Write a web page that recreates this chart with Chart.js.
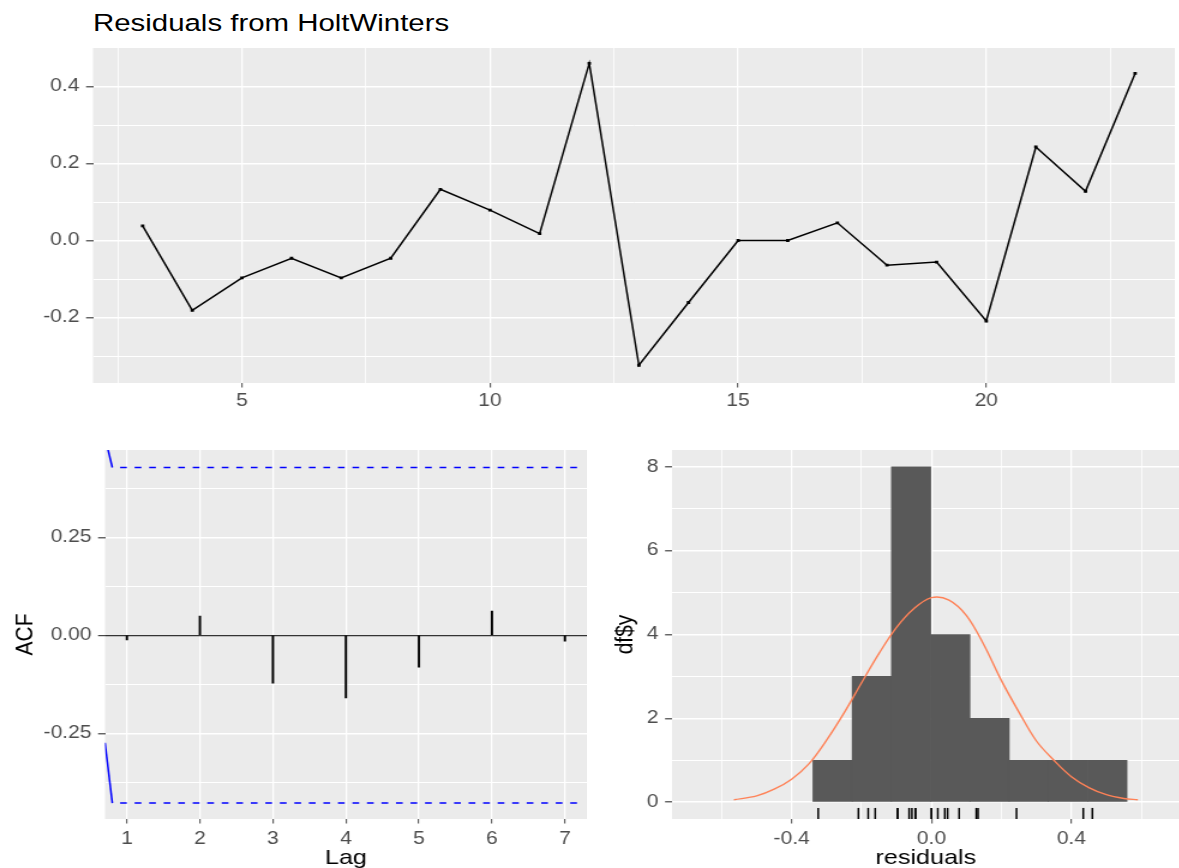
<!DOCTYPE html>
<html>
<head>
<meta charset="utf-8">
<script src="https://cdn.jsdelivr.net/npm/chart.js@4.4.1/dist/chart.umd.min.js"></script>
<style>
  html, body { margin: 0; padding: 0; background: #fff; width: 1179px; height: 868px; overflow: hidden; }
  .panel { position: absolute; transform-origin: 0 0; transform: scaleX(1.2); }
  #title { position: absolute; left: 93px; top: 11px; font-family: "Liberation Sans", Arial, sans-serif;
           font-size: 24.5px; line-height: 1; color: #000; white-space: nowrap;
           transform-origin: 0 0; transform: scaleX(1.2); }
</style>
</head>
<body>
<div id="title">Residuals from HoltWinters</div>
<div class="panel" style="left:0;top:44px"><canvas id="resChart" width="983" height="369"></canvas></div>
<div class="panel" style="left:0;top:450px"><canvas id="acfChart" width="489" height="421"></canvas></div>
<div class="panel" style="left:600px;top:450px"><canvas id="histChart" width="483" height="421"></canvas></div>
<script>
// residuals over time
const timeIndex = [3, 4, 5, 6, 7, 8, 9, 10, 11, 12, 13, 14, 15, 16, 17, 18, 19, 20, 21, 22, 23];
const residuals = [0.038, -0.181, -0.097, -0.046, -0.097, -0.046, 0.133, 0.079, 0.018, 0.460, -0.324,
                   -0.161, 0.000, 0.000, 0.046, -0.064, -0.056, -0.209, 0.243, 0.128, 0.434];
const resXMajor = [5, 10, 15, 20];
const resXLabels = ['5', '10', '15', '20'];
const resXMinor = [2.5, 7.5, 12.5, 17.5, 22.5];
const resYMajor = [-0.2, 0, 0.2, 0.4];
const resYLabels = ['-0.2', '0.0', '0.2', '0.4'];
const resYMinor = [-0.3, -0.1, 0.1, 0.3];

// ACF of residuals
const lags = [1, 2, 3, 4, 5, 6, 7];
const acfValues = [-0.012, 0.049, -0.122, -0.160, -0.081, 0.062, -0.015];
const acfLimit = 0.428;
const ciLagRange = [0.8, 7.2];
const ciEdgeLags = [0.7, 0.8];
const ciEdgeUpper = [0.505, 0.428];
const ciEdgeLower = [-0.274, -0.428];
const acfXLabels = ['1', '2', '3', '4', '5', '6', '7'];
const acfYMajor = [-0.25, 0, 0.25];
const acfYLabels = ['-0.25', '0.00', '0.25'];
const acfYMinor = [-0.375, -0.125, 0.125, 0.375];

// histogram of residuals + normal curve
const binEdges = [-0.339, -0.2268, -0.1145, -0.0023, 0.1099, 0.2222, 0.3344, 0.4467, 0.559];
const binCounts = [1, 3, 8, 4, 2, 1, 1, 1];
const curveX = [-0.565, -0.5, -0.45, -0.4, -0.35, -0.3, -0.25, -0.2, -0.15, -0.1, -0.05, 0,
                0.05, 0.1, 0.15, 0.2, 0.25, 0.3, 0.35, 0.4, 0.45, 0.5, 0.55, 0.59];
const curveY = [0.06, 0.15, 0.31, 0.55, 0.92, 1.48, 2.13, 2.85, 3.55, 4.17, 4.62, 4.88,
                4.82, 4.45, 3.75, 2.9, 2.15, 1.46, 1.0, 0.61, 0.35, 0.18, 0.09, 0.06];
const histXMajor = [-0.4, 0, 0.4];
const histXLabels = ['-0.4', '0.0', '0.4'];
const histXMinor = [-0.6, -0.2, 0.2, 0.6];
const histYMajor = [0, 2, 4, 6, 8];
const histYLabels = ['0', '2', '4', '6', '8'];
const histYMinor = [1, 3, 5, 7];

const S = 1.2; // the reference is stretched sideways
const FONT = "'Liberation Sans', Arial, sans-serif";

function axis(o) {
  const all = o.major.concat(o.minor).sort((a, b) => a - b);
  const isMajor = c => c.tick && o.major.includes(c.tick.value);
  return {
    type: 'linear', min: o.min, max: o.max, offset: false,
    afterBuildTicks: s => { s.ticks = all.map(v => ({ value: v })); },
    afterFit: s => {
      if (o.horizontal) s.height = o.size; else s.width = o.size;
      s.paddingTop = s.paddingBottom = s.paddingLeft = s.paddingRight = 0;
    },
    border: { display: false },
    grid: {
      offset: false,
      color: c => (o.zeroLine && c.tick && c.tick.value === 0) ? '#333333' : '#FFFFFF',
      lineWidth: c => (o.zeroLine && c.tick && c.tick.value === 0) ? 1.3 : (isMajor(c) ? 1.6 : 1.0) / (o.horizontal ? S : 1),
      tickColor: c => isMajor(c) ? '#333333' : 'rgba(0,0,0,0)',
      tickWidth: o.horizontal ? 1.1 / S : 1.1,
      tickLength: o.horizontal ? 4.5 : 5.8
    },
    ticks: {
      autoSkip: false, maxRotation: 0, minRotation: 0, padding: o.padding,
      color: '#4D4D4D', font: { family: FONT, size: 17.5 },
      callback: v => { const i = o.major.indexOf(v); return i >= 0 ? o.labels[i] : ''; }
    },
    title: o.title ? {
      display: true, text: o.title, color: '#000000',
      font: { family: FONT, size: 21 }, padding: { top: o.horizontal ? 0 : 9, bottom: 0 }
    } : { display: false }
  };
}

const panelBg = {
  id: 'panelBg',
  beforeDraw(chart) {
    const { ctx, chartArea: a } = chart;
    ctx.save();
    ctx.fillStyle = '#EBEBEB';
    ctx.fillRect(a.left, a.top, a.right - a.left, a.bottom - a.top);
    ctx.restore();
  }
};

const common = {
  responsive: false, animation: false, events: [],
  layout: { padding: 0 },
  plugins: { legend: { display: false }, tooltip: { enabled: false } }
};

// top: residual line
new Chart(document.getElementById('resChart'), {
  type: 'line',
  data: {
    datasets: [{
      data: timeIndex.map((t, i) => ({ x: t, y: residuals[i] })),
      borderColor: '#000000', borderWidth: 1.5, tension: 0,
      pointStyle: 'rect', pointRadius: 2, pointBackgroundColor: '#000000', pointBorderWidth: 0
    }]
  },
  options: {
    ...common,
    scales: {
      x: axis({ min: 2, max: 23.8, major: resXMajor, labels: resXLabels, minor: resXMinor,
                horizontal: true, size: 30, padding: 3 }),
      y: axis({ min: -0.37, max: 0.5, major: resYMajor, labels: resYLabels, minor: resYMinor,
                size: 77.5, padding: 5.5 })
    }
  },
  plugins: [panelBg]
});

// bottom left: ACF
const blue = '#0000FF';
function ciLine(xs, ys, dashed) {
  return {
    type: 'line', order: 0, data: xs.map((x, i) => ({ x: x, y: ys[i] })),
    borderColor: blue, backgroundColor: blue, borderWidth: 1.5, pointRadius: 0, tension: 0,
    borderDash: dashed ? [5.6, 6.5] : [], borderDashOffset: dashed ? 5.6 : 0, fill: false
  };
}
new Chart(document.getElementById('acfChart'), {
  type: 'bar',
  data: {
    datasets: [
      ciLine(ciLagRange, [acfLimit, acfLimit], true),
      ciLine(ciLagRange, [-acfLimit, -acfLimit], true),
      ciLine(ciEdgeLags, ciEdgeUpper, false),
      ciLine(ciEdgeLags, ciEdgeLower, false),
      { order: 1, data: lags.map((l, i) => ({ x: l, y: acfValues[i] })), backgroundColor: '#000000', barThickness: 1.3 }
    ]
  },
  options: {
    ...common,
    scales: {
      x: axis({ min: 0.7, max: 7.3, major: lags, labels: acfXLabels, minor: [],
                horizontal: true, size: 52, padding: 5, title: 'Lag' }),
      y: axis({ min: -0.4686, max: 0.4727, major: acfYMajor, labels: acfYLabels, minor: acfYMinor,
                size: 87.5, padding: 5.5, title: 'ACF', zeroLine: true })
    }
  },
  plugins: [panelBg]
});

// bottom right: histogram with rug and normal curve
const rug = {
  id: 'rug',
  afterDatasetsDraw(chart) {
    const { ctx, chartArea: a, scales } = chart;
    const len = (a.bottom - a.top) * 0.03;
    ctx.save();
    ctx.strokeStyle = '#000000';
    ctx.lineWidth = 1.8 / S;
    residuals.forEach(r => {
      const px = scales.x.getPixelForValue(r);
      ctx.beginPath();
      ctx.moveTo(px, a.bottom);
      ctx.lineTo(px, a.bottom - len);
      ctx.stroke();
    });
    ctx.restore();
  }
};
const binCenters = binCounts.map((c, i) => (binEdges[i] + binEdges[i + 1]) / 2);
new Chart(document.getElementById('histChart'), {
  type: 'bar',
  data: {
    datasets: [
      { type: 'line', order: 0, data: curveX.map((x, i) => ({ x: x, y: curveY[i] })),
        borderColor: '#FF8257', borderWidth: 1.4, pointRadius: 0, tension: 0.35 },
      { order: 1, data: binCenters.map((x, i) => ({ x: x, y: binCounts[i] })),
        backgroundColor: '#595959', borderWidth: 0, barPercentage: 1, categoryPercentage: 1 }
    ]
  },
  options: {
    ...common,
    scales: {
      x: axis({ min: -0.742, max: 0.7095, major: histXMajor, labels: histXLabels, minor: histXMinor,
                horizontal: true, size: 52, padding: 5, title: 'residuals' }),
      y: axis({ min: -0.4, max: 8.4, major: histYMajor, labels: histYLabels, minor: histYMinor,
                size: 60, padding: 5.5, title: 'df$y' })
    }
  },
  plugins: [panelBg, rug]
});
</script>
</body>
</html>
